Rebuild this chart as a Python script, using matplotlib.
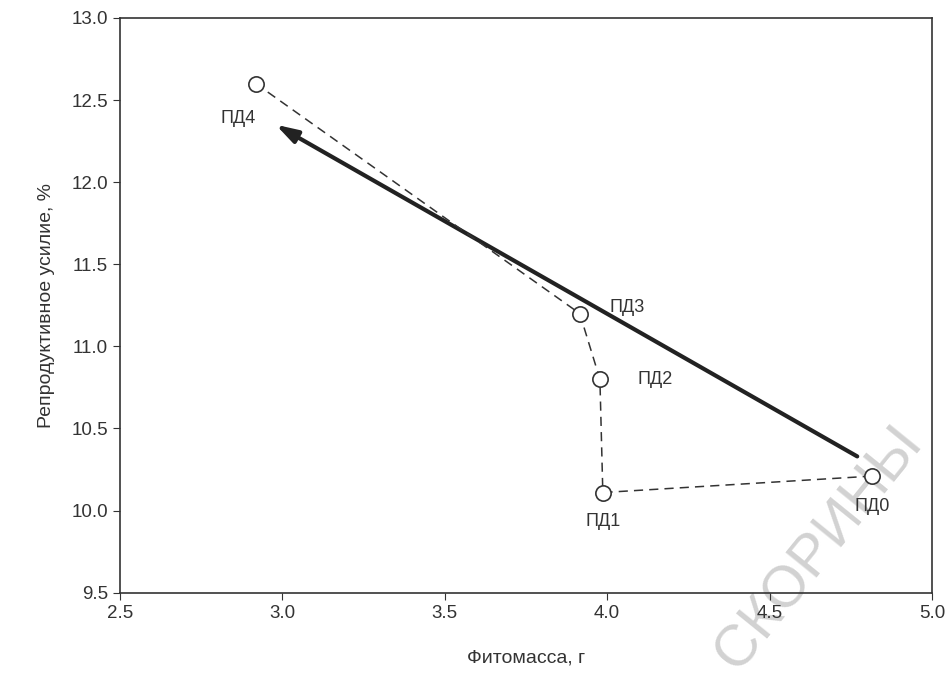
import numpy as np
import matplotlib.pyplot as plt

# data
labels = ['ПД0', 'ПД1', 'ПД2', 'ПД3', 'ПД4']
fitomass = [4.815, 3.987, 3.978, 3.916, 2.919]
effort = [10.21, 10.11, 10.80, 11.20, 12.60]
arrow_start = (4.77, 10.33)
arrow_end = (2.98, 12.35)

# label offsets in points (dx, dy)
offsets = {'ПД0': (0, -22), 'ПД1': (0, -21), 'ПД2': (40, 0),
           'ПД3': (34, 4), 'ПД4': (-13, -25)}

plt.rcParams['font.family'] = ['Liberation Sans', 'DejaVu Sans']

fig = plt.figure(figsize=(9.5, 6.9), dpi=100)
ax = fig.add_axes([0.126, 0.141, 0.855, 0.833])
ax.set_facecolor('none')

ax.plot(fitomass, effort, linestyle=(0, (6, 4)), color='#333333', lw=1.1,
        marker='o', markersize=11, markerfacecolor='white',
        markeredgecolor='#333333', markeredgewidth=1.2, zorder=3)

ax.annotate('', xy=arrow_end, xytext=arrow_start,
            arrowprops=dict(arrowstyle='-|>,head_length=1.3,head_width=0.4',
                            color='#222222', lw=3.0, shrinkA=0, shrinkB=0),
            zorder=2)

for lab, x, y in zip(labels, fitomass, effort):
    ax.annotate(lab, (x, y), xytext=offsets[lab], textcoords='offset points',
                ha='center', va='center', fontsize=13, color='#333333')

ax.set_xlim(2.5, 5.0)
ax.set_ylim(9.5, 13.0)
ax.set_xticks(np.arange(2.5, 5.01, 0.5))
ax.set_yticks(np.arange(9.5, 13.01, 0.5))
ax.xaxis.set_major_formatter(plt.FormatStrFormatter('%.1f'))
ax.yaxis.set_major_formatter(plt.FormatStrFormatter('%.1f'))
ax.tick_params(direction='out', length=5, labelsize=13.5, colors='#333333')
for s in ax.spines.values():
    s.set_color('#333333')
    s.set_linewidth(1.2)

ax.set_xlabel('Фитомасса, г', fontsize=14, color='#333333', labelpad=20)
ax.set_ylabel('Репродуктивное усилие, %', fontsize=14, color='#333333', labelpad=12)

# faint watermark behind the plot
fig.text(0.862, 0.205, 'СКОРИНЫ', rotation=51, fontsize=42, color='#d2d2d2',
         ha='center', va='center', zorder=-1)

fig.savefig('out.png', dpi=100)
